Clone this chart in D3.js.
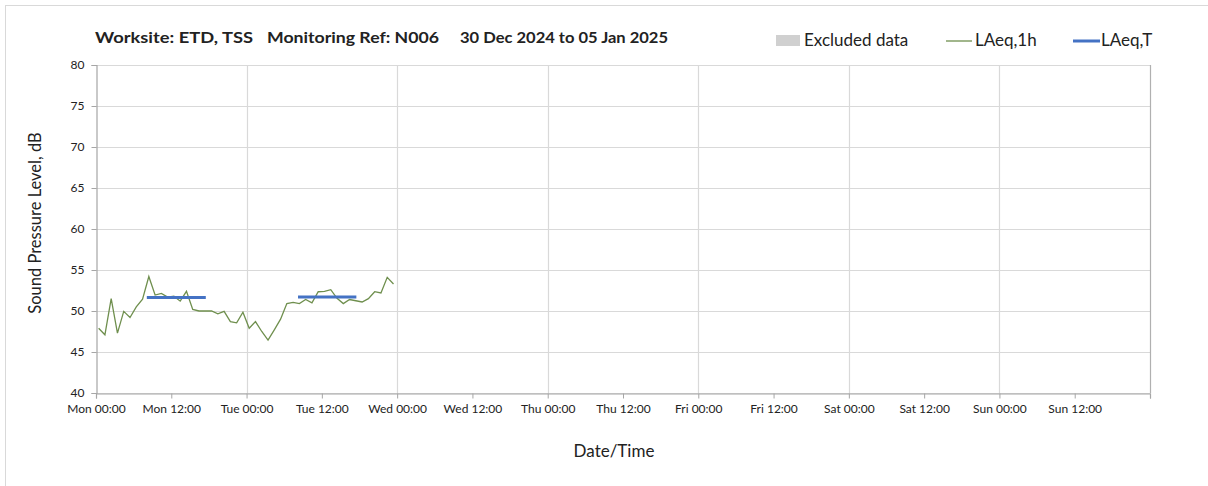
<!DOCTYPE html>
<html><head><meta charset="utf-8">
<script src="https://cdn.jsdelivr.net/npm/d3@7"></script>
<style>
html,body{margin:0;padding:0;background:#fff;}
svg text{font-family:Lato,"Open Sans",sans-serif;fill:#222;}
</style></head>
<body><svg id="chart" width="1208" height="486"></svg>
<script>
// ---- data ----
const titleParts = ["Worksite: ETD, TSS", "Monitoring Ref: N006", "30 Dec 2024 to 05 Jan 2025"];
const xTickLabels = ["Mon 00:00","Mon 12:00","Tue 00:00","Tue 12:00","Wed 00:00","Wed 12:00","Thu 00:00","Thu 12:00","Fri 00:00","Fri 12:00","Sat 00:00","Sat 12:00","Sun 00:00","Sun 12:00"];
const yTicks = [40,45,50,55,60,65,70,75,80];
// hourly LAeq,1h values starting Mon 00:00 (hours since start)
const laeq1hHours = d3.range(48).map(i => i + 0.42);
const laeq1hValues = [47.9,47.1,51.5,47.3,49.95,49.2,50.5,51.45,54.2,51.95,52.15,51.7,51.8,51.2,52.4,50.2,
  50.0,50.0,50.0,49.65,49.95,48.7,48.55,49.85,47.9,48.7,47.5,46.45,47.7,49.0,50.9,51.05,
  50.9,51.4,51.0,52.35,52.4,52.6,51.55,50.9,51.4,51.25,51.1,51.5,52.35,52.2,54.1,53.3];
// LAeq,T periods (hours since start)
const laeqTStart = [8.1, 32.2];
const laeqTEnd = [17.5, 41.5];
const laeqTValues = [51.65, 51.7];

// ---- layout ----
const svg = d3.select("#chart");
const L = 96, R = 1150, T = 65, B = 393;
const x = d3.scaleLinear().domain([0,168]).range([L,R]);
const y = d3.scaleLinear().domain([40,80]).range([B,T]);
const green = "#6f8f4e", blue = "#4472C4";

// outer border
svg.append("rect").attr("x",5.5).attr("y",5.5).attr("width",1220).attr("height",500)
  .attr("fill","none").attr("stroke","#d9d9d9");

// horizontal gridlines
svg.append("g").selectAll("line").data(yTicks).join("line")
  .attr("x1",L).attr("x2",R).attr("y1",d=>Math.round(y(d))+0.5).attr("y2",d=>Math.round(y(d))+0.5)
  .attr("stroke","#d9d9d9").attr("stroke-width",1.2);
// vertical gridlines every 24h
svg.append("g").selectAll("line").data(d3.range(24,168,24)).join("line")
  .attr("y1",T).attr("y2",B).attr("x1",d=>Math.round(x(d))+0.5).attr("x2",d=>Math.round(x(d))+0.5)
  .attr("stroke","#d9d9d9").attr("stroke-width",1.2);

// plot border right
svg.append("line").attr("x1",R+0.5).attr("x2",R+0.5).attr("y1",T).attr("y2",B).attr("stroke","#b0b0b0").attr("stroke-width",1.2);

// y axis
const yAxis = d3.axisLeft(y).tickValues(yTicks).tickSize(5).tickPadding(7).tickFormat(d3.format("d"));
const gy = svg.append("g").attr("transform",`translate(${L+0.5},0)`).call(yAxis);
gy.select(".domain").attr("stroke","#a6a6a6").attr("stroke-width",1.2);
gy.selectAll(".tick line").attr("stroke","#a6a6a6");
gy.selectAll("text").attr("font-size",12).style("font-family","Lato, sans-serif").attr("fill","#333");

// x axis
const xTickVals = d3.range(0,169,12);
const xAxis = d3.axisBottom(x).tickValues(xTickVals).tickSize(5).tickPadding(6)
  .tickFormat((d,i) => xTickLabels[i] || "");
const gx = svg.append("g").attr("transform",`translate(0,${B+0.5})`).call(xAxis);
gx.select(".domain").attr("stroke","#a6a6a6").attr("stroke-width",1.2);
gx.selectAll(".tick line").attr("stroke","#a6a6a6");
gx.selectAll("text").attr("font-size",12).attr("fill","#333");

// LAeq,1h line
const pts = laeq1hHours.map((h,i)=>[h, laeq1hValues[i]]);
svg.append("path").datum(pts)
  .attr("d", d3.line().x(d=>x(d[0])).y(d=>y(d[1])))
  .attr("fill","none").attr("stroke",green).attr("stroke-width",1.3);

// LAeq,T segments
svg.append("g").selectAll("line").data(laeqTValues).join("line")
  .attr("x1",(d,i)=>x(laeqTStart[i])).attr("x2",(d,i)=>x(laeqTEnd[i]))
  .attr("y1",d=>y(d)).attr("y2",d=>y(d))
  .attr("stroke",blue).attr("stroke-width",3);

// title
const titleX = [95, 267, 460];
const titleW = [158, 172, 208];
svg.append("g").selectAll("text").data(titleParts).join("text")
  .attr("x",(d,i)=>titleX[i]).attr("y",43)
  .attr("font-size",16).attr("font-weight","bold").attr("fill","#111")
  .attr("textLength",(d,i)=>titleW[i]).attr("lengthAdjust","spacingAndGlyphs").text(d=>d);

// legend
const lg = svg.append("g");
lg.append("rect").attr("x",776).attr("y",35).attr("width",24).attr("height",11).attr("fill","#d0d0d0");
lg.append("text").attr("x",804).attr("y",46).attr("font-size",17).text("Excluded data");
lg.append("line").attr("x1",946).attr("x2",972).attr("y1",41).attr("y2",41).attr("stroke",green).attr("stroke-width",1.3);
lg.append("text").attr("x",975).attr("y",46).attr("font-size",17).text("LAeq,1h");
lg.append("line").attr("x1",1073).attr("x2",1100).attr("y1",41).attr("y2",41).attr("stroke",blue).attr("stroke-width",3);
lg.append("text").attr("x",1101).attr("y",46).attr("font-size",17).text("LAeq,T");

// axis titles
svg.append("text").attr("transform","translate(41,223) rotate(-90)").attr("text-anchor","middle")
  .attr("font-size",16.5).text("Sound Pressure Level, dB");
svg.append("text").attr("x",614).attr("y",457).attr("text-anchor","middle")
  .attr("font-size",17).text("Date/Time");
</script></body></html>
